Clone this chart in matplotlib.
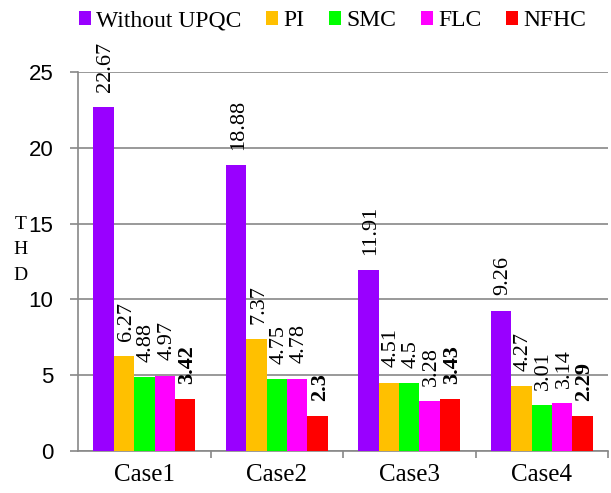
import matplotlib
matplotlib.use("Agg")
import matplotlib.pyplot as plt
import numpy as np

plt.rcParams['font.family'] = ['Liberation Serif', 'DejaVu Serif']

cases = ["Case1", "Case2", "Case3", "Case4"]
series_names = ["Without UPQC", "PI", "SMC", "FLC", "NFHC"]
without_upqc = [22.67, 18.88, 11.91, 9.26]
pi = [6.27, 7.37, 4.51, 4.27]
smc = [4.88, 4.75, 4.5, 3.01]
flc = [4.97, 4.78, 3.28, 3.14]
nfhc = [3.42, 2.3, 3.43, 2.29]
colors = ["#9900FF", "#FFC000", "#00FF00", "#FF00FF", "#FF0000"]

values = [without_upqc, pi, smc, flc, nfhc]

fig = plt.figure(figsize=(6.11, 4.93), dpi=100)
ax = fig.add_axes([0.128, 0.085, 0.867, 0.769])

x = np.arange(len(cases))
n = len(series_names)
bw = 0.154
for i, (vals, c, name) in enumerate(zip(values, colors, series_names)):
    pos = x + (i - (n - 1) / 2) * bw
    ax.bar(pos, vals, width=bw, color=c, label=name, zorder=3)
    for p, v in zip(pos, vals):
        ax.annotate(f"{v:g}", xy=(p, v), xytext=(1.5, 11), textcoords='offset points',
                    rotation=90, ha='center', va='bottom', fontsize=16,
                    fontweight='bold' if name == "NFHC" else 'normal',
                    annotation_clip=False, zorder=4)

ax.set_xlim(-0.5, len(cases) - 0.5)
ax.set_ylim(0, 25)
ax.set_yticks([0, 5, 10, 15, 20, 25])
ax.set_xticks(x)
ax.set_xticklabels(cases)
ax.set_xticks(np.arange(0.5, len(cases), 1.0), minor=True)
ax.tick_params(axis='x', which='major', length=0, labelsize=18, pad=9)
ax.tick_params(axis='x', which='minor', length=5, color='#888888', width=1.2)
ax.tick_params(axis='y', length=6, color='#888888', width=1.2, labelsize=16, pad=12)
for lab in ax.get_yticklabels():
    lab.set_fontfamily(['Liberation Sans', 'DejaVu Sans'])
ax.grid(axis='y', color='#888888', linewidth=1.2, zorder=0)
for s in ['top', 'right']:
    ax.spines[s].set_visible(False)
for s in ['left', 'bottom']:
    ax.spines[s].set_color('#888888')
    ax.spines[s].set_linewidth(1.2)

for letter, yf in zip("THD", [0.544, 0.493, 0.442]):
    fig.text(0.034, yf, letter, ha='center', va='center', fontsize=14)

ax.legend(loc='center', bbox_to_anchor=(0.48, 1.135), ncol=5, frameon=False,
          fontsize=17, handlelength=0.5, handleheight=0.5, handletextpad=0.22,
          columnspacing=1.05, borderpad=0, borderaxespad=0)

fig.savefig("out.png", dpi=100)
